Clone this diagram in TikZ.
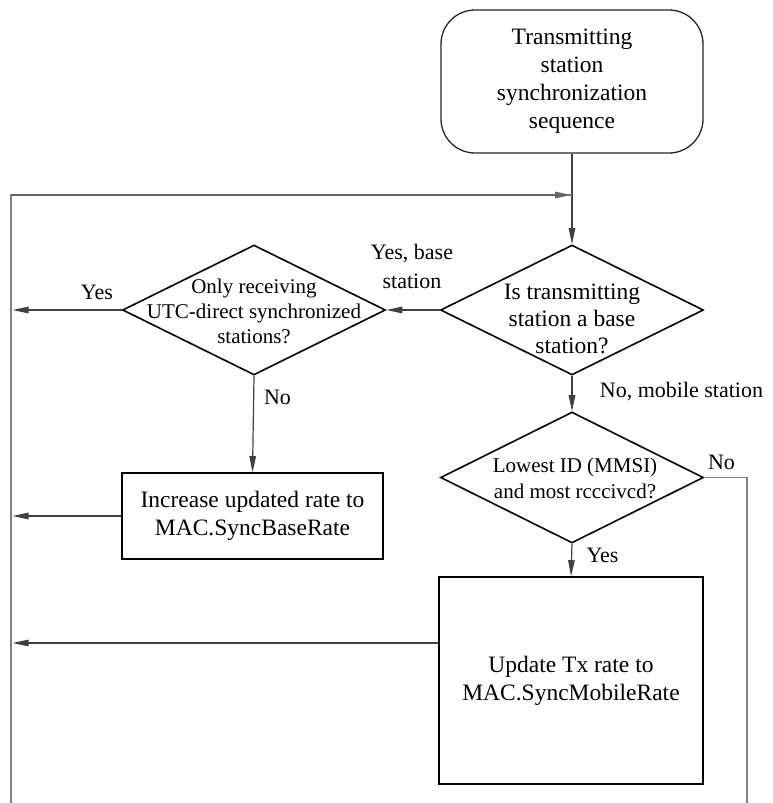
\documentclass[tikz,border=0pt]{standalone}
\usepackage{fontspec}
\setmainfont{Liberation Serif}
\usetikzlibrary{shapes.geometric,arrows.meta}
\begin{document}
\begin{tikzpicture}[x=1pt,y=-1pt,
  dshape/.style={draw=black, line width=1.6pt, shape=diamond, minimum width=263pt, minimum height=130pt, inner sep=0pt},
  bshape/.style={draw=black, line width=1.6pt, rectangle, inner sep=0pt, align=center, font=\fontsize{23.5}{28}\selectfont},
  sshape/.style={draw=black!85, line width=1.3pt, rectangle, rounded corners=34pt, inner sep=0pt, align=center, font=\fontsize{23.5}{28}\selectfont},
  dtxtA/.style={align=center, font=\fontsize{23.5}{27}\selectfont, inner sep=0pt},
  dtxtB/.style={align=center, font=\fontsize{21}{25}\selectfont, inner sep=0pt},
  dtxtC/.style={align=center, font=\fontsize{21}{26}\selectfont, inner sep=0pt},
  lbl/.style={align=center, font=\fontsize{22}{29}\selectfont, inner sep=0pt},
  conn/.style={draw=black!75, line width=1.2pt},
  arr/.style={conn, -{Triangle[length=16pt,width=6.5pt]}},
  loopline/.style={draw=black!50, line width=1.4pt}]
\useasboundingbox (0,0) rectangle (773,803);

% nodes
\node[sshape, minimum width=262pt, minimum height=143pt] (start) at (572,81.5)
  {Transmitting\\station\\synchronization\\sequence};
\node[dshape] (d1) at (572,310) {};
\node[dtxtA] (d1t) at (572,319) {Is transmitting\\station a base\\station?};
\node[dshape] (d2) at (254,310) {};
\node[dtxtB] (d2t) at (254,311) {Only receiving\\UTC-direct synchronized\\stations?};
\node[dshape, minimum height=131pt] (d3) at (572,477.5) {};
\node[dtxtC] (d3t) at (575,478) {Lowest ID (MMSI)\\and most rcccivcd?};
\node[bshape, minimum width=261pt, minimum height=86pt] (b1) at (252.5,516)
  {Increase updated rate to\\MAC.SyncBaseRate};
\node[bshape, minimum width=264pt, minimum height=207pt] (b2) at (571,680.5)
  {Update Tx rate to\\MAC.SyncMobileRate};

% coordinates
\coordinate (lbot) at (11,803);
\coordinate (ltop) at (11,195);
\coordinate (ljoin) at (572,195);
\coordinate (lyes) at (11,310);
\coordinate (lb1) at (11,516);
\coordinate (lb2) at (11,643);
\coordinate (rtop) at (747,477.5);
\coordinate (rbot) at (747,803);

% connectors
\draw[arr] (start.south) -- (d1.north);
\draw[loopline] (lbot) -- (ltop) -- (ljoin -| d1.north);
\draw[arr, draw=black!60] (ltop) -- ([xshift=-1pt]ljoin);
\draw[arr] (d1.west) -- (d2.east);
\draw[arr] (d2.west) -- ([xshift=1.5pt]lyes);
\draw[arr] (d2.south) -- (b1.north);
\draw[arr] (b1.west) -- ([xshift=1.5pt]lb1);
\draw[arr] (d1.south) -- (d3.north);
\draw[arr] (d3.south) -- (b2.north);
\draw[arr] (lb2 -| b2.west) -- ([xshift=1.5pt]lb2);
\draw[loopline] (d3.east) -- (rtop) -- (rbot);

% labels
\node[lbl] (lyb) at (412,266) {Yes, base\\station};
\node[lbl] (ly1) at (97,292) {Yes};
\node[lbl] (ln1) at (277.5,397) {No};
\node[lbl] (lnm) at (681.5,392) {No, mobile station};
\node[lbl] (ln2) at (721.5,462) {No};
\node[lbl] (ly2) at (602.5,555) {Yes};
\end{tikzpicture}
\end{document}
